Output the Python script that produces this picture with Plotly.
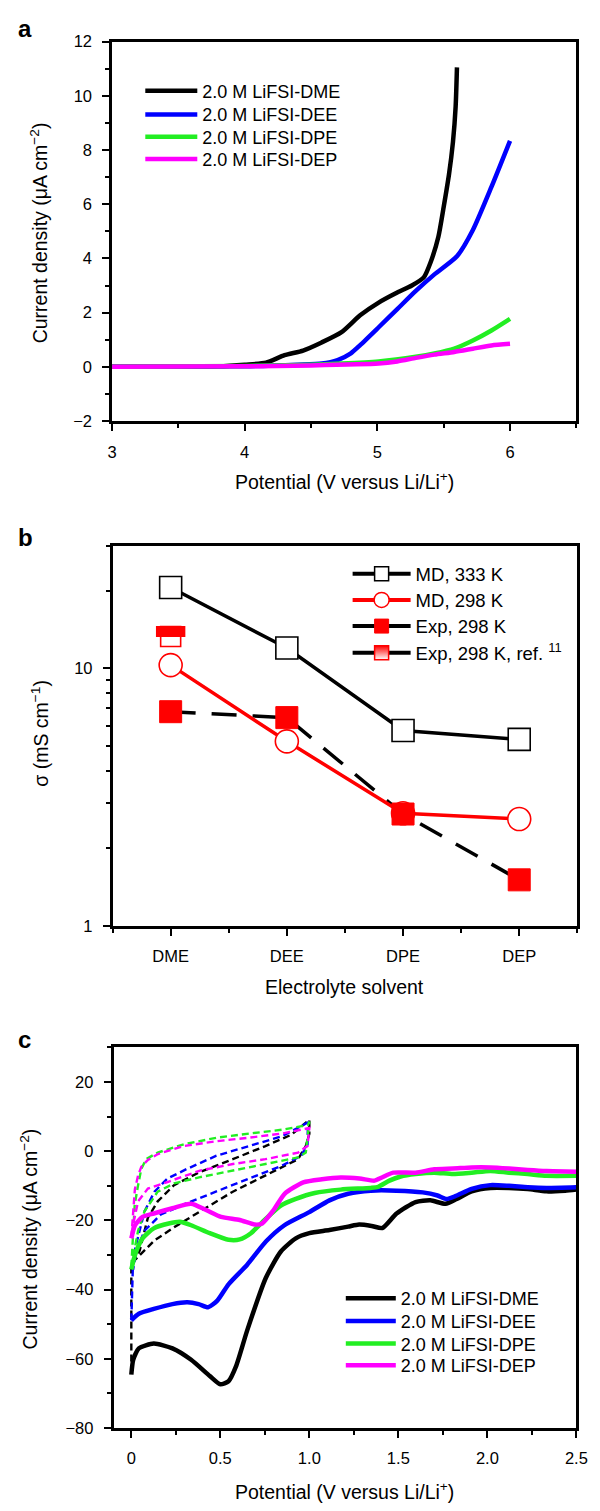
import plotly.graph_objects as go

FONT = "Liberation Sans"

# ---------------- Panel a : LSV ----------------
a_names = ["2.0 M LiFSI-DME", "2.0 M LiFSI-DEE", "2.0 M LiFSI-DPE", "2.0 M LiFSI-DEP"]
a_colors = ["#000000", "#0000FF", "#22EE22", "#FF00FF"]
a_dme_x = [3.0, 3.5, 3.8, 4.0, 4.16, 4.30, 4.44, 4.58, 4.73, 4.87, 5.01, 5.15, 5.26, 5.35, 5.40, 5.46, 5.50, 5.54, 5.57, 5.59, 5.60]
a_dme_y = [0.0, 0.0, 0.02, 0.08, 0.15, 0.43, 0.60, 0.90, 1.28, 1.90, 2.37, 2.74, 3.00, 3.30, 3.84, 4.80, 5.90, 7.10, 8.30, 9.60, 11.05]
a_dee_x = [3.0, 4.0, 4.4, 4.58, 4.70, 4.80, 4.87, 5.01, 5.15, 5.29, 5.43, 5.60, 5.72, 5.86, 6.0]
a_dee_y = [0.0, 0.02, 0.08, 0.12, 0.25, 0.50, 0.80, 1.46, 2.13, 2.80, 3.41, 4.08, 5.05, 6.64, 8.34]
a_dpe_x = [3.0, 4.0, 4.5, 4.73, 5.01, 5.29, 5.43, 5.58, 5.72, 5.86, 6.0]
a_dpe_y = [0.0, 0.03, 0.08, 0.12, 0.20, 0.37, 0.49, 0.67, 0.97, 1.34, 1.77]
a_dep_x = [3.0, 4.0, 4.5, 5.01, 5.15, 5.29, 5.43, 5.58, 5.72, 5.86, 6.0]
a_dep_y = [0.0, 0.02, 0.05, 0.12, 0.20, 0.33, 0.45, 0.55, 0.67, 0.79, 0.85]

# ---------------- Panel b : conductivity ----------------
b_categories = ["DME", "DEE", "DPE", "DEP"]
b_md333 = [20.6, 12.0, 5.74, 5.30]
b_md298 = [10.3, 5.21, 2.74, 2.60]
b_exp298 = [6.79, 6.44, 2.72, 1.51]
b_ref_cat = ["DME"]
b_ref_val = [13.3]
b_names = ["MD, 333 K", "MD, 298 K", "Exp, 298 K", "Exp, 298 K, ref. <sup>11</sup>"]

# ---------------- Panel c : CV ----------------
c_names = a_names
c_dme_x = [0.0, 0.0105, 0.042, 0.126, 0.231, 0.336, 0.441, 0.50, 0.546, 0.588, 0.651, 0.756, 0.84, 0.924, 1.0, 1.113, 1.218, 1.28, 1.35, 1.41, 1.49, 1.597, 1.68, 1.765, 1.828, 1.912, 2.017, 2.122, 2.227, 2.332, 2.437, 2.5]
c_dme_y = [-64.6, -60.3, -57.0, -55.6, -57.0, -60.3, -65.0, -67.4, -66.5, -62.2, -51.8, -36.6, -29.0, -25.2, -23.7, -22.8, -21.8, -21.2, -21.6, -22.2, -18.0, -14.7, -14.2, -15.2, -13.8, -11.6, -10.6, -10.6, -10.9, -11.6, -11.4, -11.1]
c_dee_x = [0.0, 0.042, 0.126, 0.231, 0.315, 0.378, 0.431, 0.483, 0.546, 0.651, 0.756, 0.86, 1.0, 1.113, 1.218, 1.345, 1.49, 1.637, 1.72, 1.77, 1.82, 1.912, 2.017, 2.122, 2.227, 2.332, 2.5]
c_dee_y = [-48.9, -47.0, -45.6, -44.2, -43.7, -44.2, -45.1, -43.2, -38.5, -32.8, -26.1, -21.4, -17.6, -14.2, -12.3, -11.4, -11.4, -11.9, -12.8, -13.8, -13.0, -10.9, -9.8, -10.0, -10.4, -10.6, -10.4]
c_dpe_x = [0.0, 0.021, 0.063, 0.126, 0.21, 0.273, 0.336, 0.441, 0.546, 0.609, 0.672, 0.756, 0.84, 0.924, 1.03, 1.176, 1.345, 1.387, 1.45, 1.513, 1.597, 1.702, 1.807, 1.912, 2.017, 2.122, 2.227, 2.332, 2.5]
c_dpe_y = [-34.2, -29.9, -25.2, -22.3, -20.9, -20.4, -21.4, -23.7, -25.6, -25.5, -23.7, -19.5, -15.7, -13.8, -12.1, -11.1, -10.6, -10.3, -8.5, -7.3, -6.6, -6.2, -6.6, -6.2, -5.7, -6.2, -6.6, -7.1, -7.1]
c_dep_x = [0.0, 0.021, 0.063, 0.126, 0.231, 0.336, 0.42, 0.504, 0.609, 0.693, 0.735, 0.798, 0.861, 0.966, 1.071, 1.176, 1.282, 1.366, 1.408, 1.471, 1.597, 1.702, 1.807, 1.912, 2.017, 2.122, 2.227, 2.332, 2.5]
c_dep_y = [-25.2, -21.4, -19.0, -18.0, -16.5, -15.2, -17.0, -19.0, -19.9, -21.2, -20.9, -17.1, -12.3, -9.0, -8.1, -7.6, -7.9, -8.5, -7.6, -6.2, -6.2, -5.2, -5.0, -4.7, -4.7, -5.0, -5.4, -5.7, -5.9]

# dashed first-cycle loops (0 - 1 V)
cd_dme_x = [0.0, 0.0, 0.019, 0.047, 0.093, 0.148, 0.24, 0.386, 0.57, 0.753, 0.90, 1.0, 1.0, 0.98, 0.937, 0.753, 0.57, 0.386, 0.24, 0.13, 0.056, 0.019]
cd_dme_y = [-64.0, -33.0, -31.5, -28.7, -19.2, -14.5, -9.8, -6.0, -2.3, 1.5, 4.8, 9.1, 5.0, 1.5, -2.3, -7.0, -11.7, -17.4, -22.0, -25.8, -29.6, -31.5]
cd_dee_x = [0.0, 0.005, 0.01, 0.028, 0.074, 0.13, 0.203, 0.313, 0.478, 0.661, 0.845, 0.992, 0.99, 0.955, 0.845, 0.661, 0.478, 0.313, 0.166, 0.074, 0.028, 0.01]
cd_dee_y = [-48.9, -40.0, -31.0, -26.8, -17.4, -11.7, -7.9, -5.1, -1.3, 1.5, 4.3, 8.3, 2.0, -1.3, -4.2, -7.9, -11.7, -15.0, -18.3, -23.0, -28.7, -34.3]
cd_dpe_x = [0.0, 0.01, 0.019, 0.038, 0.056, 0.083, 0.148, 0.295, 0.478, 0.661, 0.845, 0.992, 1.0, 0.98, 0.937, 0.753, 0.57, 0.386, 0.24, 0.148, 0.074, 0.038, 0.01, 0.0]
cd_dpe_y = [-33.4, -23.0, -15.5, -9.8, -5.1, -2.3, -0.4, 2.0, 3.9, 5.1, 6.2, 7.6, 8.6, -0.4, -1.8, -3.7, -5.6, -7.5, -9.3, -11.7, -17.4, -23.0, -30.6, -34.3]
cd_dep_x = [0.0, 0.01, 0.02, 0.038, 0.056, 0.093, 0.15, 0.295, 0.478, 0.661, 0.845, 1.0, 0.99, 0.937, 0.753, 0.57, 0.386, 0.203, 0.093, 0.038, 0.01, 0.0]
cd_dep_y = [-24.9, -17.0, -11.0, -7.0, -4.5, -2.5, -0.8, 1.5, 2.9, 3.9, 5.1, 6.7, 1.5, -0.4, -2.3, -3.7, -5.6, -8.9, -10.8, -14.5, -21.1, -24.9]

W, H = 600, 1511


def px_x(p):
    return p / W


def px_y(p):
    return 1 - p / H


fig = go.Figure()
legends = {}
leg_counter = [0]


def new_legend(x, y, size, itemwidth):
    leg_counter[0] += 1
    key = "legend" if leg_counter[0] == 1 else "legend%d" % leg_counter[0]
    legends[key] = dict(x=px_x(x), y=px_y(y), xanchor="left", yanchor="middle", bgcolor="rgba(0,0,0,0)",
                        font=dict(size=size, family=FONT, color="black"), itemwidth=itemwidth, tracegroupgap=0)
    return key


# ---- panel a traces
a_rows = [83, 107, 129.5, 152]
for nm, col, xs, ys, ry in zip(a_names, a_colors, [a_dme_x, a_dee_x, a_dpe_x, a_dep_x], [a_dme_y, a_dee_y, a_dpe_y, a_dep_y], a_rows):
    fig.add_trace(go.Scatter(x=xs, y=ys, mode="lines", name=nm, line=dict(color=col, width=4.5, shape="spline", smoothing=0.6),
                             xaxis="x", yaxis="y", legend=new_legend(139, ry, 18, 52)))

# ---- panel b traces
bx = list(range(len(b_categories)))
fig.add_trace(go.Scatter(x=bx, y=b_exp298, mode="lines", line=dict(color="black", width=3.5, dash="25px,16px"),
                         xaxis="x2", yaxis="y2", showlegend=False, hoverinfo="skip"))
fig.add_trace(go.Scatter(x=bx, y=b_md333, mode="lines+markers", line=dict(color="black", width=3.5),
                         marker=dict(symbol="square", size=22, color="white", line=dict(color="black", width=1.6)),
                         xaxis="x2", yaxis="y2", showlegend=False))
fig.add_trace(go.Scatter(x=bx, y=b_md298, mode="lines+markers", line=dict(color="#FF0000", width=3.5),
                         marker=dict(symbol="circle", size=23, color="white", line=dict(color="#FF0000", width=1.6)),
                         xaxis="x2", yaxis="y2", showlegend=False))
fig.add_trace(go.Scatter(x=bx, y=b_exp298, mode="markers",
                         marker=dict(symbol="square", size=22, color="#FF0000", line=dict(color="#FF0000", width=1)),
                         xaxis="x2", yaxis="y2", showlegend=False))
ref_x = [b_categories.index(c) for c in b_ref_cat]
fig.add_trace(go.Scatter(x=ref_x, y=b_ref_val, mode="markers",
                         marker=dict(symbol="square", size=20, color="white", line=dict(color="#FF0000", width=1.6)),
                         xaxis="x2", yaxis="y2", showlegend=False))
# top half fill of the half-filled square (offset of a quarter marker in log space)
fig.add_trace(go.Scatter(x=ref_x, y=[v * 10 ** (5.0 / 261) for v in b_ref_val], mode="markers",
                         marker=dict(symbol="line-ew", size=21, line=dict(color="#FF0000", width=11)),
                         xaxis="x2", yaxis="y2", showlegend=False, hoverinfo="skip"))
# legend entries
leg_markers = [
    dict(symbol="square", size=14, color="white", line=dict(color="black", width=1.5)),
    dict(symbol="circle", size=15, color="white", line=dict(color="#FF0000", width=1.5)),
    dict(symbol="square", size=14, color="#FF0000", line=dict(color="#FF0000", width=1)),
    dict(symbol="square", size=14, color="#FF0000", line=dict(color="#FF0000", width=1.5),
         gradient=dict(type="vertical", color="white")),
]
leg_lines = ["black", "#FF0000", "black", "black"]
b_rows = [572, 598.5, 625, 652]
for nm, mk, lc, ry in zip(b_names, leg_markers, leg_lines, b_rows):
    fig.add_trace(go.Scatter(x=[None], y=[None], mode="lines+markers", name=nm, marker=mk,
                             line=dict(color=lc, width=4), xaxis="x2", yaxis="y2",
                             legend=new_legend(352, ry, 18.5, 58)))

# ---- panel c traces
for col, xs, ys in zip(a_colors, [cd_dme_x, cd_dee_x, cd_dpe_x, cd_dep_x], [cd_dme_y, cd_dee_y, cd_dpe_y, cd_dep_y]):
    fig.add_trace(go.Scatter(x=xs, y=ys, mode="lines", line=dict(color=col, width=2.4, dash="7px,4px"),
                             xaxis="x3", yaxis="y3", showlegend=False))
c_rows = [1305, 1328, 1351, 1373]
for nm, col, xs, ys, ry in zip(c_names, a_colors, [c_dme_x, c_dee_x, c_dpe_x, c_dep_x], [c_dme_y, c_dee_y, c_dpe_y, c_dep_y], c_rows):
    fig.add_trace(go.Scatter(x=xs, y=ys, mode="lines", name=nm, line=dict(color=col, width=4.5, shape="spline", smoothing=0.6),
                             xaxis="x3", yaxis="y3", legend=new_legend(345, ry, 18, 50)))


def ax(**kw):
    d = dict(showline=True, linecolor="black", linewidth=2.5, mirror=True, ticks="outside", ticklen=7, tickwidth=2,
             tickcolor="black", showgrid=False, zeroline=False, ticklabelstandoff=7,
             tickfont=dict(size=16.5, color="black", family=FONT))
    d.update(kw)
    return d


minor = lambda **kw: dict(ticks="outside", ticklen=4, tickwidth=2, tickcolor="black", showgrid=False, **kw)

TF = dict(size=19.5, color="black", family=FONT)


def title_ann(text, x, y, angle=0):
    return dict(text=text, x=px_x(x), y=px_y(y), xref="paper", yref="paper", showarrow=False, xanchor="center",
                yanchor="middle", textangle=angle, font=TF)


def letter(text, y):
    return dict(text="<b>%s</b>" % text, x=px_x(11), y=px_y(y), xref="paper", yref="paper", showarrow=False,
                xanchor="left", yanchor="middle", font=dict(size=24, family="Liberation Sans", color="black"))


fig.update_layout(
    width=W, height=H, margin=dict(l=0, r=0, t=0, b=0), plot_bgcolor="white", paper_bgcolor="white",
    font=dict(family=FONT, color="black", size=16),
    xaxis=ax(domain=[px_x(110), px_x(587)], range=[3, 6.5], tickvals=[3, 4, 5, 6], minor=minor(dtick=0.5, tick0=3),
             anchor="y"),
    yaxis=ax(domain=[px_y(417), px_y(33)], range=[-2, 12], dtick=2, minor=minor(dtick=1, tick0=0), anchor="x"),
    xaxis2=ax(domain=[px_x(110.5), px_x(588)], range=[-0.5, 3.5], tickvals=bx, ticktext=b_categories,
              minor=minor(dtick=0.5, tick0=-0.5), anchor="y2"),
    yaxis2=ax(domain=[px_y(928), px_y(543)], type="log", range=[0, 1.4771], tickvals=[1, 10], ticktext=["1", "10"],
              minor=minor(tickmode="array", tickvals=[2, 3, 4, 5, 6, 7, 8, 9, 20, 30]), anchor="x2"),
    xaxis3=ax(domain=[px_x(111.5), px_x(587)], range=[-0.1, 2.5], tickvals=[0, 0.5, 1.0, 1.5, 2.0, 2.5],
              ticktext=["0", "0.5", "1.0", "1.5", "2.0", "2.5"], minor=minor(dtick=0.25, tick0=0), anchor="y3"),
    yaxis3=ax(domain=[px_y(1436), px_y(1051)], range=[-80, 30], tickvals=[-80, -60, -40, -20, 0, 20],
              minor=minor(dtick=10, tick0=0), anchor="x3"),
    annotations=[
        letter("a", 20), letter("b", 535), letter("c", 1043),
        title_ann("Potential (V versus Li/Li<sup>+</sup>)", 348.5, 478),
        title_ann("Current density (μA cm<sup>−2</sup>)", 35, 227, -90),
        title_ann("Electrolyte solvent", 349, 990),
        title_ann("σ (mS cm<sup>−1</sup>)", 36.5, 733, -90),
        title_ann("Potential (V versus Li/Li<sup>+</sup>)", 349, 1500),
        title_ann("Current density (μA cm<sup>−2</sup>)", 25, 1245, -90),
    ],
)
fig.update_layout(**legends)

fig.write_html("out.html", config={"displayModeBar": False}, post_script="document.body.style.margin='0px';")
